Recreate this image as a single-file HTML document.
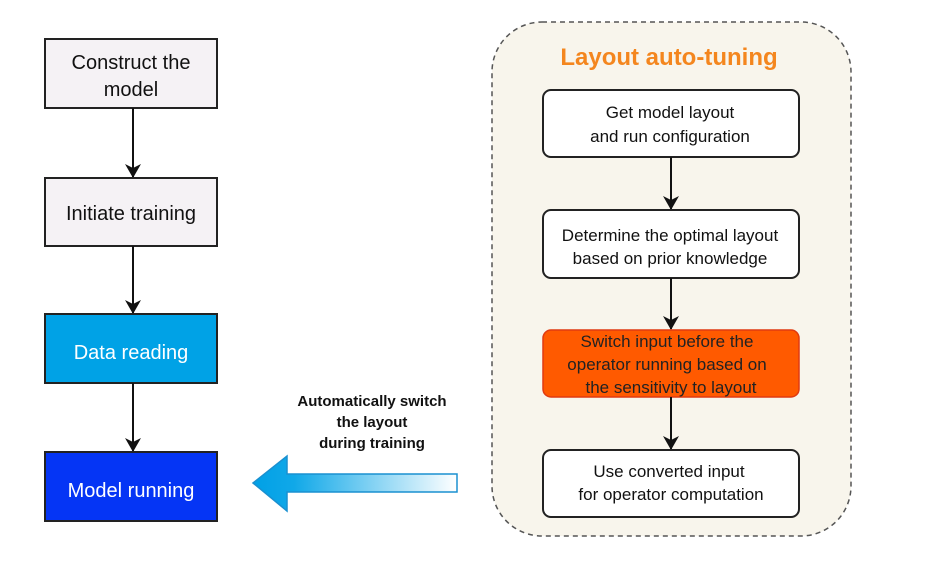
<!DOCTYPE html>
<html><head><meta charset="utf-8"><style>
html,body{margin:0;padding:0;background:#fff;}
svg{display:block;font-family:"Liberation Sans","Noto Sans CJK SC",sans-serif;}
</style></head><body>
<svg width="935" height="575" viewBox="0 0 935 575" xmlns="http://www.w3.org/2000/svg">
<defs>
<marker id="ah" markerWidth="14" markerHeight="16" refX="13" refY="8" orient="auto" markerUnits="userSpaceOnUse">
<path d="M0,0 L14,8 L0,16 L4,8 Z" fill="#111"/></marker>
<linearGradient id="g" x1="0" x2="1" y1="0" y2="0">
<stop offset="0" stop-color="#00a0e6"/><stop offset="0.2" stop-color="#10a8e8"/><stop offset="1" stop-color="#ffffff"/></linearGradient>
</defs>
<rect x="45" y="39" width="172" height="69" fill="#f5f2f5" stroke="#222" stroke-width="2"/>
<text x="131" y="69" font-size="20" text-anchor="middle" fill="#111">Construct the</text>
<text x="131" y="96" font-size="20" text-anchor="middle" fill="#111">model</text>
<line x1="133" y1="108" x2="133" y2="177" stroke="#111" stroke-width="2" marker-end="url(#ah)"/>
<rect x="45" y="178" width="172" height="68" fill="#f5f2f5" stroke="#222" stroke-width="2"/>
<text x="131" y="220" font-size="20" text-anchor="middle" fill="#111">Initiate training</text>
<line x1="133" y1="246" x2="133" y2="313" stroke="#111" stroke-width="2" marker-end="url(#ah)"/>
<rect x="45" y="314" width="172" height="69" fill="#00a2e6" stroke="#222" stroke-width="2"/>
<text x="131" y="359" font-size="20" text-anchor="middle" fill="#fff">Data reading</text>
<line x1="133" y1="383" x2="133" y2="451" stroke="#111" stroke-width="2" marker-end="url(#ah)"/>
<rect x="45" y="452" width="172" height="69" fill="#0535f5" stroke="#222" stroke-width="2"/>
<text x="131" y="497" font-size="20" text-anchor="middle" fill="#fff">Model running</text>
<path d="M253,483 L287,456 L287,474 L457,474 L457,492 L287,492 L287,511 Z" fill="url(#g)" stroke="#1a90d0" stroke-width="1.5"/>
<text x="372" y="406" font-size="15" font-weight="bold" text-anchor="middle" fill="#111">Automatically switch</text>
<text x="372" y="427" font-size="15" font-weight="bold" text-anchor="middle" fill="#111">the layout</text>
<text x="372" y="448" font-size="15" font-weight="bold" text-anchor="middle" fill="#111">during training</text>
<rect x="492" y="22" width="359" height="514" rx="50" fill="#f8f5ec" stroke="#555" stroke-width="1.5" stroke-dasharray="5,4"/>
<text x="669" y="65" font-size="24" font-weight="bold" text-anchor="middle" fill="#f4861e">Layout auto-tuning</text>
<rect x="543" y="90" width="256" height="67" rx="8" fill="#fff" stroke="#222" stroke-width="2"/>
<text x="670" y="118" font-size="17" text-anchor="middle" fill="#111">Get model layout</text>
<text x="670" y="142" font-size="17" text-anchor="middle" fill="#111">and run configuration</text>
<line x1="671" y1="157" x2="671" y2="209" stroke="#111" stroke-width="2" marker-end="url(#ah)"/>
<rect x="543" y="210" width="256" height="68" rx="8" fill="#fff" stroke="#222" stroke-width="2"/>
<text x="670" y="241" font-size="17" text-anchor="middle" fill="#111">Determine the optimal layout</text>
<text x="670" y="264" font-size="17" text-anchor="middle" fill="#111">based on prior knowledge</text>
<line x1="671" y1="278" x2="671" y2="329" stroke="#111" stroke-width="2" marker-end="url(#ah)"/>
<rect x="543" y="330" width="256" height="67" rx="8" fill="#ff5a00" stroke="#e03a10" stroke-width="1.5"/>
<text x="667" y="347" font-size="17" text-anchor="middle" fill="#222">Switch input before the</text>
<text x="667" y="370" font-size="17" text-anchor="middle" fill="#222">operator running based on</text>
<text x="671" y="393" font-size="17" text-anchor="middle" fill="#222">the sensitivity to layout</text>
<line x1="671" y1="397" x2="671" y2="449" stroke="#111" stroke-width="2" marker-end="url(#ah)"/>
<rect x="543" y="450" width="256" height="67" rx="8" fill="#fff" stroke="#222" stroke-width="2"/>
<text x="669" y="477" font-size="17" text-anchor="middle" fill="#111">Use converted input</text>
<text x="671" y="500" font-size="17" text-anchor="middle" fill="#111">for operator computation</text>
</svg>
</body></html>
